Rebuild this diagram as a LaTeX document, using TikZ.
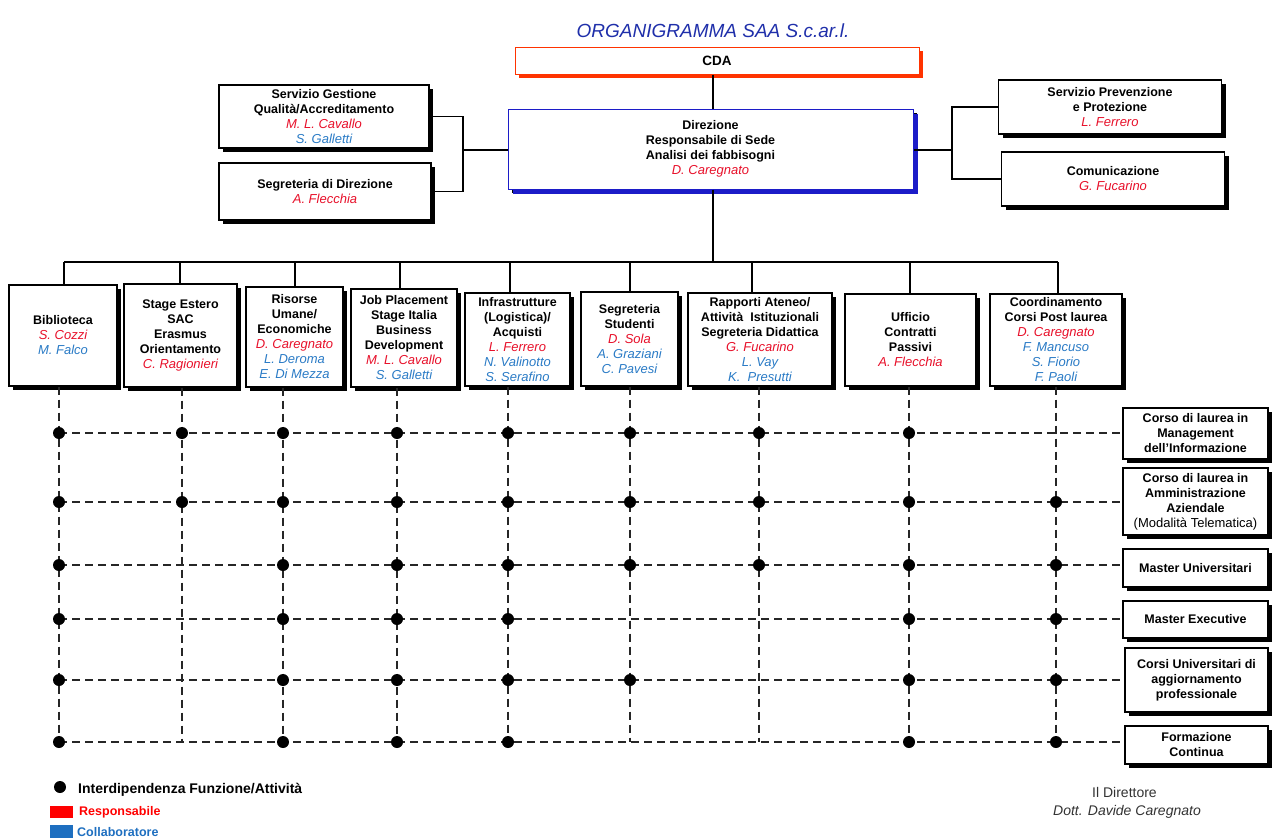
\documentclass[tikz,border=0pt]{standalone}
\usepackage{fontspec}
\setmainfont{Liberation Sans}
\usetikzlibrary{shadows}
\definecolor{nred}{HTML}{E8102A}
\definecolor{nblue}{HTML}{2A7BC6}
\definecolor{tblue}{HTML}{1F2FAA}
\definecolor{cdared}{HTML}{FF3300}
\definecolor{dirblue}{HTML}{1C1CC8}
\definecolor{sigcol}{HTML}{333333}
\definecolor{legblue}{HTML}{1E6FC0}
\newcommand\rn[1]{{\normalfont\itshape\fontsize{13}{15}\selectfont\color{nred}#1}}
\newcommand\bn[1]{{\normalfont\itshape\fontsize{13}{15}\selectfont\color{nblue}#1}}
\begin{document}
\begin{tikzpicture}[x=1pt,y=-1pt,
  box/.style={draw, line width=1.2pt, fill=white, align=center, inner sep=0pt,
    font=\bfseries\fontsize{12.5}{15}\selectfont,
    drop shadow={shadow xshift=4pt, shadow yshift=-4pt, fill=black, opacity=1}},
  conn/.style={line width=1.2pt},
  dashline/.style={line width=1.2pt, black!85, dash pattern=on 8pt off 5pt},
  dot/.style={circle, fill=black, inner sep=0pt, minimum size=12pt},
  legtext/.style={anchor=west, inner sep=0pt, font=\bfseries\fontsize{12.5}{15}\selectfont}
]
\fill[white] (0,0) rectangle (1274,839);
\useasboundingbox (0,0) rectangle (1274,839);

% title
\node[text=tblue, font=\itshape\fontsize{19}{22}\selectfont] (title) at (713,31) {ORGANIGRAMMA SAA S.c.ar.l.};

% top boxes
\node[box, draw=cdared, line width=1pt, minimum width=404pt, minimum height=27pt,
  font=\bfseries\fontsize{13.5}{15}\selectfont,
  drop shadow={shadow xshift=4pt, shadow yshift=-4pt, fill=cdared, opacity=1}] (cda) at (717,60.5) {CDA};
\node[box, draw=dirblue, line width=1pt, minimum width=405pt, minimum height=80pt,
  drop shadow={shadow xshift=5pt, shadow yshift=-5pt, fill=dirblue, opacity=1}] (dir) at (710.5,149)
  {Direzione\\Responsabile di Sede\\Analisi dei fabbisogni\\\rn{D. Caregnato}};

\node[box, minimum width=210pt, minimum height=63pt] (sgq) at (324,116.5)
  {Servizio Gestione\\Qualità/Accreditamento\\\rn{M. L. Cavallo}\\\bn{S. Galletti}};
\node[box, minimum width=212pt, minimum height=57pt] (sdd) at (325,191.5)
  {Segreteria di Direzione\\\rn{A. Flecchia}};
\node[box, minimum width=223pt, minimum height=54pt] (spp) at (1110,107)
  {Servizio Prevenzione\\e Protezione\\\rn{L. Ferrero}};
\node[box, minimum width=223pt, minimum height=54pt] (com) at (1113,179)
  {Comunicazione\\\rn{G. Fucarino}};

% second-level boxes
\node[box, minimum width=108pt, minimum height=101pt] (b1) at (63,335.5)
  {Biblioteca\\\rn{S. Cozzi}\\\bn{M. Falco}};
\node[box, minimum width=113pt, minimum height=103pt] (b2) at (180.5,335.5)
  {Stage Estero\\SAC\\Erasmus\\Orientamento\\\rn{C. Ragionieri}};
\node[box, minimum width=97pt, minimum height=100pt] (b3) at (294.5,337)
  {Risorse\\Umane/\\Economiche\\\rn{D. Caregnato}\\\bn{L. Deroma}\\\bn{E. Di Mezza}};
\node[box, minimum width=106pt, minimum height=98pt] (b4) at (404,338)
  {Job Placement\\Stage Italia\\Business\\Development\\\rn{M. L. Cavallo}\\\bn{S. Galletti}};
\node[box, minimum width=105pt, minimum height=93pt] (b5) at (517.5,339.5)
  {Infrastrutture\\(Logistica)/\\Acquisti\\\rn{L. Ferrero}\\\bn{N. Valinotto}\\\bn{S. Serafino}};
\node[box, minimum width=97pt, minimum height=94pt] (b6) at (629.5,339)
  {Segreteria\\Studenti\\\rn{D. Sola}\\\bn{A. Graziani}\\\bn{C. Pavesi}};
\node[box, minimum width=144pt, minimum height=93pt] (b7) at (760,339.5)
  {Rapporti Ateneo/\\Attività\ \ Istituzionali\\Segreteria Didattica\\\rn{G. Fucarino}\\\bn{L. Vay}\\\bn{K.\ \ Presutti}};
\node[box, minimum width=131pt, minimum height=92pt] (b8) at (910.5,340)
  {Ufficio\\Contratti\\Passivi\\\rn{A. Flecchia}};
\node[box, minimum width=132pt, minimum height=92pt] (b9) at (1056,340)
  {Coordinamento\\Corsi Post laurea\\\rn{D. Caregnato}\\\bn{F. Mancuso}\\\bn{S. Fiorio}\\\bn{F. Paoli}};

% course boxes
\node[box, minimum width=145pt, minimum height=51pt] (r1) at (1195.5,433.5)
  {Corso di laurea in\\Management\\dell’Informazione};
\node[box, minimum width=145pt, minimum height=67pt] (r2) at (1195.5,501.5)
  {Corso di laurea in\\Amministrazione\\Aziendale\\{\normalfont\fontsize{13}{15}\selectfont(Modalità Telematica)}};
\node[box, minimum width=145pt, minimum height=38pt] (r3) at (1195.5,568) {Master Universitari};
\node[box, minimum width=145pt, minimum height=37pt] (r4) at (1195.5,619.5) {Master Executive};
\node[box, minimum width=143pt, minimum height=64pt] (r5) at (1196.5,680)
  {Corsi Universitari di\\aggiornamento\\professionale};
\node[box, minimum width=143pt, minimum height=38pt] (r6) at (1196.5,745) {Formazione\\Continua};

% solid connectors
\coordinate (vx) at (713,262);
\draw[conn] (vx |- cda.south) -- (vx |- dir.north);
\draw[conn] (vx |- dir.south) -- (vx);
\coordinate (jL) at (463,150);
\draw[conn] (sgq.east) -| (jL) |- (sdd.east);
\draw[conn] (jL) -- (dir.west |- jL);
\coordinate (jR) at (952,150);
\draw[conn] (spp.west) -| (jR) |- (com.west);
\draw[conn] (jR) -- (dir.east |- jR);

\foreach \i/\x in {1/64,2/180,3/295,4/400,5/510,6/630,7/752,8/910,9/1058}
  \coordinate (t\i) at (\x,262);
\draw[conn] (t1) -- (t9);
\foreach \i in {1,...,9}
  \draw[conn] (t\i) -- (t\i |- b\i.north);

% dashed matrix
\foreach \i/\x in {1/59,2/182,3/283,4/397,5/508,6/630,7/759,8/909,9/1056}
  \coordinate (g\i) at (\x,742);
\foreach \j/\y in {1/433,2/502,3/565,4/619,5/680,6/742}
  \coordinate (h\j) at (59,\y);
\foreach \i in {1,...,9}
  \draw[dashline] (g\i |- b\i.south) -- (g\i);
\foreach \j in {1,...,6}
  \draw[dashline] (h\j) -- (h\j -| r\j.west);

\foreach \j/\cols in {1/{1,2,3,4,5,6,7,8},2/{1,2,3,4,5,6,7,8,9},3/{1,3,4,5,6,7,8,9},
                      4/{1,3,4,5,8,9},5/{1,3,4,5,6,8,9},6/{1,3,4,5,8,9}}
  \foreach \i in \cols
    \node[dot] (d\j\i) at (g\i |- h\j) {};

% legend
\node[dot] (ldot) at (60,787) {};
\node[legtext, font=\bfseries\fontsize{14}{16}\selectfont] (ltxt) at (78,790) {Interdipendenza Funzione/Attività};
\node[fill=red, minimum width=23pt, minimum height=12pt, inner sep=0pt] (lred) at (61.5,812) {};
\node[legtext, text=red] (lredt) at (79,812) {Responsabile};
\node[fill=legblue, minimum width=23pt, minimum height=13pt, inner sep=0pt] (lblue) at (61.5,831.5) {};
\node[legtext, text=legblue] (lbluet) at (77,832) {Collaboratore};

% signature
\node[text=sigcol, font=\fontsize{14}{16}\selectfont] (sig1) at (1124.5,792) {Il Direttore};
\node[text=sigcol, font=\itshape\fontsize{14}{16}\selectfont] (sig2) at (1127,812) {Dott. Davide Caregnato};
\end{tikzpicture}
\end{document}
